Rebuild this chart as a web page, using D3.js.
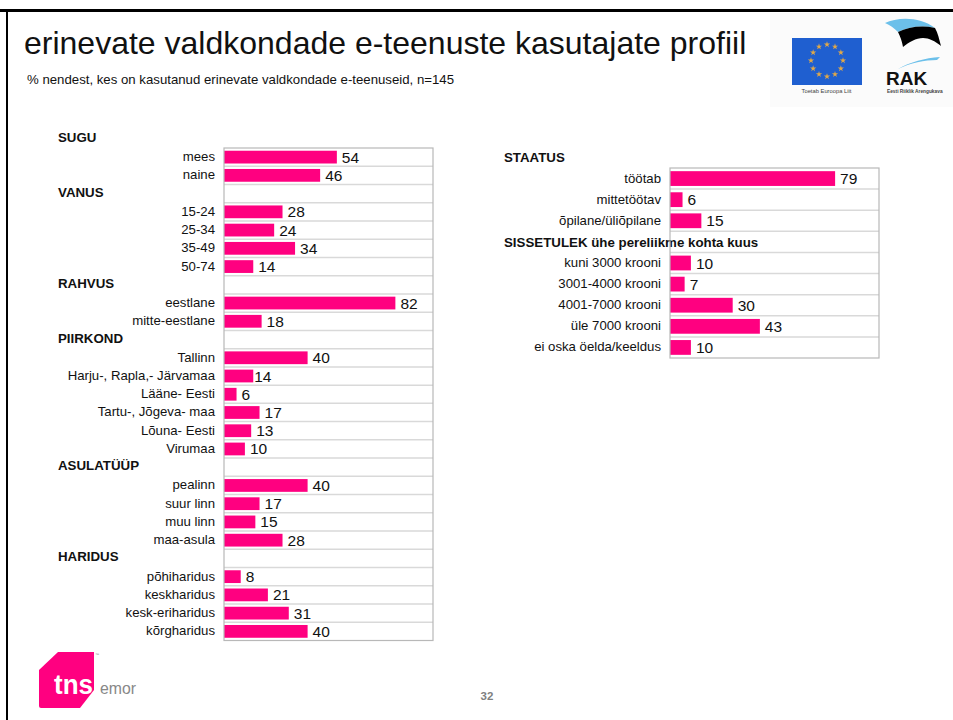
<!DOCTYPE html>
<html><head><meta charset="utf-8">
<script src="https://cdn.jsdelivr.net/npm/d3@7/dist/d3.min.js"></script>
<style>html,body{margin:0;padding:0;background:#fff}svg{display:block;font-family:"Liberation Sans",Arial,sans-serif}</style>
</head><body><div id="c"></div>
<script>
const titleText = "erinevate valdkondade e-teenuste kasutajate profiil";
const subtitleText = "% nendest, kes on kasutanud erinevate valdkondade e-teenuseid, n=145";
const leftHeads = ["SUGU","VANUS","RAHVUS","PIIRKOND","ASULATÜÜP","HARIDUS"];
const leftCats = ["mees","naine","VANUS","15-24","25-34","35-49","50-74","RAHVUS","eestlane","mitte-eestlane","PIIRKOND","Tallinn","Harju-, Rapla,- Järvamaa","Lääne- Eesti","Tartu-, Jõgeva- maa","Lõuna- Eesti","Virumaa","ASULATÜÜP","pealinn","suur linn","muu linn","maa-asula","HARIDUS","põhiharidus","keskharidus","kesk-eriharidus","kõrgharidus"];
const leftVals = [54,46,null,28,24,34,14,null,82,18,null,40,14,6,17,13,10,null,40,17,15,28,null,8,21,31,40];
const rightHeads = ["STAATUS","SISSETULEK ühe pereliikme kohta kuus"];
const rightCats = ["töötab","mittetöötav","õpilane/üliõpilane","SISSETULEK ühe pereliikme kohta kuus","kuni 3000 krooni","3001-4000 krooni","4001-7000 krooni","üle 7000 krooni","ei oska öelda/keeldus"];
const rightVals = [79,6,15,null,10,7,30,43,10];

const svg = d3.select("#c").append("svg").attr("width",953).attr("height",720);

svg.append("rect").attr("x",770).attr("y",13).attr("width",183).attr("height",94).attr("fill","#fbfbfb");
svg.append("rect").attr("x",0).attr("y",9).attr("width",953).attr("height",3).attr("fill","#000");
svg.append("rect").attr("x",6).attr("y",9).attr("width",2).attr("height",711).attr("fill","#000");

svg.append("text").attr("x",24).attr("y",54).attr("font-size",32).attr("fill","#111").text(titleText);
svg.append("text").attr("x",27).attr("y",84).attr("font-size",13).attr("textLength",427).attr("lengthAdjust","spacingAndGlyphs").attr("fill","#111").text(subtitleText);

function panel(cats, vals, x0, x1, y0, y1, barFrac){
  const x = d3.scaleLinear().domain([0,100]).range([x0,x1]);
  const y = d3.scaleBand().domain(cats).range([y0,y1]).paddingInner(0).paddingOuter(0);
  const g = svg.append("g");
  const bounds = cats.slice(1).map(c=>y(c));
  g.selectAll("line.sep").data(bounds).join("line").attr("class","sep")
    .attr("x1",x0).attr("x2",x1).attr("y1",d=>d).attr("y2",d=>d)
    .attr("stroke","#d9d9d9").attr("stroke-width",1.5);
  const rows = cats.map((c,i)=>({c,v:vals[i]})).filter(d=>d.v!==null);
  const bh = y.bandwidth()*barFrac;
  g.selectAll("rect.bar").data(rows).join("rect").attr("class","bar")
    .attr("x",x0).attr("y",d=>y(d.c)+(y.bandwidth()-bh)/2)
    .attr("width",d=>x(d.v)-x0).attr("height",bh).attr("fill","#ff0080");
  g.selectAll("text.val").data(rows).join("text").attr("class","val")
    .attr("x",d=>x(d.v)+(d.c.startsWith("Harju")?1:5)).attr("y",d=>y(d.c)+y.bandwidth()/2+5.5)
    .attr("font-size",15.5).attr("fill","#111").text(d=>d.v);
  const axis = d3.axisLeft(y).tickSize(0).tickPadding(9).tickValues(rows.map(d=>d.c));
  const ag = g.append("g").attr("transform",`translate(${x0},0)`).call(axis);
  ag.select(".domain").remove();
  ag.selectAll("text").attr("font-size",13.2).attr("font-family","'Liberation Sans',Arial,sans-serif").attr("fill","#111").attr("dy","0.3em");
  return {x,y,x0,x1,y0,y1};
}

const L = panel(leftCats,leftVals,224,433,148,640.5,0.7);
const R = panel(rightCats,rightVals,670,879,168,358,0.7);

svg.selectAll("text.lh").data(leftHeads).join("text").attr("class","lh")
  .attr("x",58).attr("y",(d,i)=> i===0 ? 142 : L.y(d)+L.y.bandwidth()/2+3)
  .attr("font-size",13.3).attr("font-weight","bold").attr("fill","#111").text(d=>d);
svg.selectAll("text.rh").data(rightHeads).join("text").attr("class","rh")
  .attr("x",504).attr("y",(d,i)=> i===0 ? 162 : R.y(d)+R.y.bandwidth()/2+5)
  .attr("font-size",13.3).attr("font-weight","bold").attr("fill","#111").text(d=>d);

// panel frames go above the headings, as the reference's axis line crosses the heading text
[L,R].forEach(p=>{
  svg.append("rect").attr("x",p.x0).attr("y",p.y0).attr("width",p.x1-p.x0).attr("height",p.y1-p.y0)
    .attr("fill","none").attr("stroke","#b8b8b8").attr("stroke-width",1.2);
});

svg.append("text").attr("x",487).attr("y",700).attr("text-anchor","middle").attr("font-size",11.5).attr("font-weight","bold").attr("fill","#808080").text("32");

// EU logo
const eu = svg.append("g");
eu.append("rect").attr("x",792).attr("y",38).attr("width",70).attr("height",47).attr("fill","#1f5fd0");
d3.range(12).forEach(i=>{
  const a=i/12*2*Math.PI;
  eu.append("path").attr("d",d3.symbol(d3.symbolStar,12)()).attr("fill","#e0a848")
    .attr("transform",`translate(${827+Math.sin(a)*16},${60.5-Math.cos(a)*16})`);
});
eu.append("text").attr("x",826.5).attr("y",93).attr("text-anchor","middle").attr("font-size",5.8).attr("fill","#444").text("Toetab Euroopa Liit");

// RAK logo
const rk = svg.append("g");
rk.append("path").attr("d","M885 23 C897 17 920 16 935 28 C922 25 908 27 898 32 C894 28 890 25 885 23Z").attr("fill","#6cc0ea");
rk.append("path").attr("d","M898 32 C908 27 922 25 935 28 C938 33 939 39 941 46 C935 41 929 38 923 38 C916 38 909 42 903 47 C902 41 900 36 898 32Z").attr("fill","#000");
rk.append("path").attr("d","M898 69 C910 62 925 58 940 57 L937 60 C925 60 910 63 898 69Z").attr("fill","#6cc0ea");
rk.append("text").attr("x",886).attr("y",85).attr("font-size",19).attr("font-weight","bold").attr("fill","#111").text("RAK");
rk.append("text").attr("x",887).attr("y",93).attr("font-size",4.8).attr("font-weight","bold").attr("fill","#444").text("Eesti Riiklik Arengukava");

// TNS logo
const t = svg.append("g");
t.append("path").attr("d","M58 652 L94 652 L94 690 L80 708 L41 708 Q39 708 39 706 L39 670Z").attr("fill","#ff0080");
t.append("text").attr("x",54).attr("y",694).attr("font-size",27).attr("font-weight","bold").attr("fill","#fff").attr("textLength",39).attr("lengthAdjust","spacingAndGlyphs").text("tns");
t.append("text").attr("x",100).attr("y",694).attr("font-size",17).attr("fill","#888").attr("font-family","'Liberation Sans Narrow','Liberation Sans',sans-serif").attr("textLength",36).attr("lengthAdjust","spacingAndGlyphs").text("emor");
t.append("text").attr("x",95).attr("y",656).attr("font-size",4).attr("fill","#888").text("™");
</script></body></html>
